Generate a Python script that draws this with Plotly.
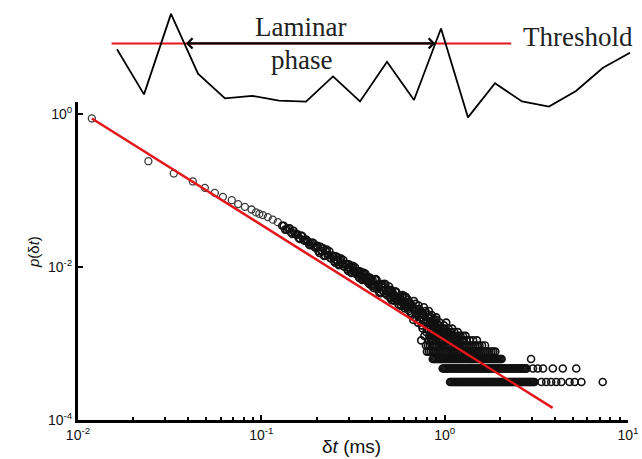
import plotly.graph_objects as go

# ---------------- main panel: laminar-phase length distribution ----------------
# isolated early points (delta t in ms, probability)
dt_iso = [0.0119, 0.0242, 0.0333, 0.0423, 0.0492, 0.0558, 0.0617, 0.0690,
          0.0747, 0.0813, 0.0884, 0.0935, 0.0975, 0.102, 0.1085, 0.1155, 0.123]
p_iso = [0.88, 0.243, 0.168, 0.132, 0.109, 0.0935, 0.083, 0.0752,
         0.0667, 0.0614, 0.0567, 0.0520, 0.0497, 0.0479, 0.0451, 0.0418, 0.0387]

# dense part of the curve
dt_curve = [
    0.130, 0.135, 0.140, 0.145, 0.150, 0.155, 0.160, 0.165, 0.170, 0.175,
    0.180, 0.185, 0.190, 0.195, 0.200,
    0.205, 0.210, 0.215, 0.220, 0.225, 0.230, 0.235, 0.240, 0.245, 0.250,
    0.255, 0.260, 0.265, 0.270, 0.275, 0.280, 0.285, 0.290, 0.295, 0.300,
    0.305, 0.310, 0.315, 0.320, 0.325, 0.330, 0.335, 0.340, 0.345, 0.350,
    0.355, 0.360, 0.365, 0.370, 0.375, 0.380, 0.385, 0.390, 0.395, 0.400,
    0.405, 0.410, 0.415, 0.420, 0.425, 0.430, 0.435, 0.440, 0.445, 0.450,
    0.455, 0.460, 0.465, 0.470, 0.475, 0.480, 0.485, 0.490, 0.495, 0.500,
    0.505, 0.510, 0.515, 0.520, 0.525, 0.530, 0.535, 0.540, 0.545, 0.550,
    0.555, 0.560, 0.565, 0.570, 0.575, 0.580, 0.585, 0.590, 0.595, 0.600,
    0.605, 0.610, 0.615, 0.620,
    0.63, 0.64, 0.65, 0.66, 0.67, 0.68, 0.69, 0.70, 0.71, 0.72, 0.73, 0.74,
    0.745, 0.75, 0.755, 0.76, 0.77, 0.775, 0.78, 0.79, 0.80, 0.81, 0.82,
    0.83, 0.84, 0.85, 0.86, 0.90,
    # second pass of bins
    0.1325, 0.1375, 0.1425, 0.1475, 0.1525, 0.1575, 0.1625, 0.1675, 0.1725, 0.1775,
    0.1825, 0.1875, 0.1925, 0.1975,
    0.2025, 0.2075, 0.2125, 0.2175, 0.2225, 0.2275, 0.2325, 0.2375, 0.2425, 0.2475,
    0.2525, 0.2575, 0.2625, 0.2675, 0.2725, 0.2775, 0.2825, 0.2875, 0.2925, 0.2975,
    0.3025, 0.3075, 0.3125, 0.3175, 0.3225, 0.3275, 0.3325, 0.3375, 0.3425, 0.3475,
    0.3525, 0.3575, 0.3625, 0.3675, 0.3725, 0.3775, 0.3825, 0.3875, 0.3925, 0.3975,
    0.4075, 0.4175, 0.4275, 0.4375, 0.4475, 0.4575, 0.4675, 0.4775, 0.4875, 0.4975,
    0.5075, 0.5175, 0.5275, 0.5375, 0.5475, 0.5575, 0.5675, 0.5775, 0.5875, 0.5975,
    0.6075, 0.6175,
    0.635, 0.645, 0.655, 0.665, 0.675, 0.685, 0.695, 0.705, 0.715, 0.725, 0.735,
    0.748, 0.758, 0.765, 0.785, 0.795, 0.805, 0.815, 0.825, 0.835, 0.845, 0.855,
    0.865, 0.875, 0.885, 0.892, 0.895]
p_curve = [
    0.0348, 0.0309, 0.0320, 0.0286, 0.0298, 0.0267, 0.0240, 0.0258, 0.0226, 0.0229,
    0.0213, 0.0193, 0.0209, 0.0184, 0.0188,
    0.0161, 0.0185, 0.0164, 0.0140, 0.0162, 0.0143, 0.0161, 0.0130, 0.0138, 0.0119,
    0.0139, 0.0123, 0.0106, 0.0123, 0.0110, 0.0124, 0.0101, 0.0108, 0.0093, 0.0109,
    0.0097, 0.0084, 0.0098, 0.0087, 0.0099, 0.0081, 0.0087, 0.0075, 0.0088, 0.0079,
    0.0068, 0.0080, 0.0072, 0.0082, 0.0067, 0.0072, 0.0062, 0.0073, 0.0066, 0.0057,
    0.00671, 0.00534, 0.00558, 0.00697, 0.00684, 0.00578, 0.00551, 0.00466, 0.00472, 0.00591,
    0.00599, 0.00491, 0.00483, 0.00606, 0.00597, 0.00448, 0.00428, 0.00489, 0.00468, 0.00409,
    0.00497, 0.00505, 0.00368, 0.00422, 0.00441, 0.00363, 0.00391, 0.00478, 0.00471, 0.00400,
    0.00360, 0.00325, 0.00408, 0.00415, 0.00322, 0.00347, 0.00411, 0.00431, 0.00355, 0.00321,
    0.00289, 0.00352, 0.00405, 0.00296,
    3.77e-3, 2.67e-3, 3.30e-3, 2.36e-3, 2.98e-3, 3.61e-3, 2.20e-3, 2.83e-3, 2.51e-3, 3.14e-3,
    2.04e-3, 2.67e-3, 1.10e-3, 1.73e-3, 2.51e-3, 2.36e-3, 2.98e-3, 1.26e-3, 1.88e-3, 2.51e-3,
    1.57e-3, 2.20e-3, 2.67e-3, 1.88e-3, 1.41e-3, 2.36e-3, 1.73e-3, 2.20e-3,
    # second pass of bins
    0.0348, 0.0310, 0.0322, 0.0271, 0.0274, 0.0269, 0.0234, 0.0253, 0.0221, 0.0225,
    0.0196, 0.0201, 0.0205, 0.0180,
    0.0190, 0.0153, 0.0162, 0.0176, 0.0142, 0.0170, 0.0145, 0.0132, 0.0141, 0.0141,
    0.0114, 0.0121, 0.0133, 0.0108, 0.0129, 0.0112, 0.0102, 0.0109, 0.0109, 0.0089,
    0.0095, 0.0105, 0.0085, 0.0103, 0.0089, 0.0082, 0.0088, 0.0088, 0.0072, 0.0077,
    0.0085, 0.0070, 0.0084, 0.0073, 0.0067, 0.0072, 0.0073, 0.0060, 0.0064, 0.0071,
    0.00607, 0.00682, 0.00517, 0.00598, 0.00455, 0.00543, 0.00593, 0.00452, 0.00479, 0.00557,
    0.00388, 0.00479, 0.00400, 0.00480, 0.00357, 0.00391, 0.00405, 0.00310, 0.00408, 0.00342,
    0.00412, 0.00307,
    2.98e-3, 3.45e-3, 2.51e-3, 3.14e-3, 2.04e-3, 2.67e-3, 3.30e-3, 2.36e-3, 1.88e-3, 2.83e-3,
    2.20e-3, 2.51e-3, 1.57e-3, 2.04e-3, 2.67e-3, 1.41e-3, 1.88e-3, 2.36e-3, 1.26e-3, 1.73e-3,
    2.20e-3, 1.10e-3, 1.57e-3, 2.04e-3, 9.42e-4, 1.88e-3, 1.41e-3]

# low-probability tail: discrete levels (2, 3, 4, ... events) and their delta t values
band_p = [3.14e-4, 4.71e-4, 6.28e-4, 7.85e-4, 9.42e-4, 1.10e-3,
          1.26e-3, 1.41e-3, 1.57e-3, 1.73e-3, 1.88e-3, 2.04e-3]
band_dt = [
    [1.07, 1.085, 1.10, 1.118, 1.135, 1.152, 1.17, 1.188, 1.205, 1.222, 1.24, 1.26,
     1.28, 1.298, 1.315, 1.335, 1.355, 1.375, 1.395, 1.418, 1.44, 1.46, 1.48, 1.502,
     1.525, 1.548, 1.57, 1.595, 1.62, 1.645, 1.67, 1.695, 1.72, 1.745, 1.77, 1.795,
     1.82, 1.848, 1.875, 1.902, 1.93, 1.96, 1.99, 2.02, 2.05, 2.08, 2.11, 2.142,
     2.175, 2.208, 2.24, 2.272, 2.305, 2.34, 2.375, 2.41, 2.445, 2.482, 2.52, 2.558,
     2.595, 2.632, 2.67, 2.71, 2.75, 2.792, 2.835, 2.878, 2.92, 2.96, 3.0, 3.045,
     3.09, 3.37, 3.58, 3.81, 4.06, 4.33, 4.80, 5.12, 5.57, 7.28],
    [0.975, 0.99, 1.005, 1.02, 1.035, 1.05, 1.065, 1.082, 1.10, 1.115, 1.13, 1.148,
     1.165, 1.182, 1.20, 1.218, 1.235, 1.252, 1.27, 1.29, 1.31, 1.33, 1.35, 1.37,
     1.39, 1.41, 1.43, 1.452, 1.475, 1.498, 1.52, 1.542, 1.565, 1.588, 1.61, 1.635,
     1.66, 1.685, 1.71, 1.735, 1.76, 1.788, 1.815, 1.842, 1.87, 1.898, 1.925, 1.952,
     1.98, 2.01, 2.04, 2.07, 2.10, 2.132, 2.165, 2.198, 2.23, 2.265, 2.30, 2.335,
     2.37, 2.405, 2.44, 2.475, 2.51, 2.55, 2.59, 2.63, 2.67, 2.71, 2.75, 2.775,
     2.80, 3.03, 3.22, 3.44, 3.89, 4.41, 5.22],
    [0.861, 0.874, 0.887, 0.90, 0.914, 0.927, 0.941, 0.955, 0.969, 0.983, 0.998,
     1.014, 1.03, 1.045, 1.06, 1.075, 1.09, 1.105, 1.12, 1.138, 1.155, 1.172, 1.19,
     1.208, 1.225, 1.242, 1.26, 1.28, 1.30, 1.32, 1.34, 1.36, 1.38, 1.40, 1.42, 1.44,
     1.46, 1.482, 1.505, 1.528, 1.55, 1.575, 1.60, 1.622, 1.645, 1.67, 1.695, 1.72,
     1.745, 1.772, 1.80, 1.825, 1.85, 1.878, 1.905, 1.935, 1.965, 1.992, 2.02,
     2.045, 2.96],
    [0.80, 0.82, 0.84, 0.86, 0.88, 0.90, 0.92, 0.94, 0.96, 0.985, 1.01, 1.035, 1.06,
     1.085, 1.11, 1.135, 1.16, 1.19, 1.22, 1.25, 1.28, 1.31, 1.34, 1.375, 1.41,
     1.445, 1.48, 1.515, 1.55, 1.59, 1.63, 1.67, 1.71, 1.755, 1.80, 1.845, 1.89],
    [0.79, 0.81, 0.83, 0.85, 0.87, 0.89, 0.91, 0.935, 0.96, 0.98, 1.0, 1.025, 1.05,
     1.075, 1.10, 1.13, 1.16, 1.185, 1.21, 1.24, 1.27, 1.30, 1.33, 1.365, 1.40,
     1.435, 1.47, 1.51, 1.55, 1.60, 1.66],
    [0.82, 0.84, 0.86, 0.88, 0.9, 0.925, 0.95, 0.975, 1.0, 1.025, 1.05, 1.075, 1.1,
     1.125, 1.15, 1.18, 1.21, 1.24, 1.27, 1.32, 1.37, 1.43, 1.50],
    [0.85, 0.87, 0.89, 0.91, 0.93, 0.955, 0.98, 1.005, 1.03, 1.055, 1.08, 1.11,
     1.14, 1.18, 1.22, 1.26, 1.30],
    [0.88, 0.90, 0.92, 0.945, 0.97, 0.995, 1.02, 1.05, 1.08, 1.13, 1.18],
    [0.87, 0.89, 0.91, 0.93, 0.95, 0.975, 1.0, 1.05, 1.1],
    [0.88, 0.93, 0.99],
    [0.87, 0.94, 1.02],
    [0.9],
]

# power-law fit (slope about -1.5)
fit_dt = [0.0119, 3.88]
fit_p = [0.88, 1.44e-4]

# axis ticks
x_tickvals = [0.01, 0.1, 1, 10]
x_ticktext = ["10<sup>-2</sup>", "10<sup>-1</sup>", "10<sup>0</sup>", "10<sup>1</sup>"]
x_minor = [m * 10.0 ** e for e in (-2, -1, 0) for m in range(2, 10)]
y_tickvals = [1e-4, 1e-2, 1]
y_ticktext = ["10<sup>-4</sup>", "10<sup>-2</sup>", "10<sup>0</sup>"]

# ---------------- inset: signal and threshold ----------------
sample_idx = list(range(20))
signal = [70.7, 25.6, 106.1, 46.4, 21.7, 24.2, 19.3, 18.3, 43.6, 18.6,
          58.2, 20.0, 91.5, 2.6, 36.7, 18.6, 13.4, 29.0, 52.3, 67.2]
threshold = 76.6
threshold_span = [-0.2, 14.6]

# threshold crossings (linear interpolation between samples)
crossings = []
for i in range(len(signal) - 1):
    a, b = signal[i] - threshold, signal[i + 1] - threshold
    if a * b < 0:
        crossings.append(sample_idx[i] + a / (a - b))
lam_start, lam_end = crossings[1], crossings[2]

# ---------------- build figure ----------------
tail_dt, tail_p = [], []
for lev, dts in zip(band_p, band_dt):
    tail_dt += dts
    tail_p += [lev] * len(dts)

fig = go.Figure()
fig.add_trace(go.Scatter(
    x=dt_iso, y=p_iso, mode="markers", xaxis="x", yaxis="y",
    marker=dict(symbol="circle-open", size=7, color="#3a3a3a", line=dict(width=1.3)),
    showlegend=False, hoverinfo="skip"))
fig.add_trace(go.Scatter(
    x=dt_curve + tail_dt, y=p_curve + tail_p, mode="markers", xaxis="x", yaxis="y",
    marker=dict(symbol="circle-open", size=7, color="#111111", line=dict(width=1.6)),
    showlegend=False, hoverinfo="skip"))
fig.add_trace(go.Scatter(
    x=fit_dt, y=fit_p, mode="lines", xaxis="x", yaxis="y",
    line=dict(color="#e3161c", width=2.5), showlegend=False, hoverinfo="skip"))

fig.add_trace(go.Scatter(
    x=threshold_span, y=[threshold, threshold], mode="lines", xaxis="x2", yaxis="y2",
    line=dict(color="#e3161c", width=2), showlegend=False, hoverinfo="skip"))
fig.add_trace(go.Scatter(
    x=sample_idx, y=signal, mode="lines", xaxis="x2", yaxis="y2",
    line=dict(color="black", width=1.8), showlegend=False, hoverinfo="skip"))

serif = "Liberation Serif, Times New Roman, serif"
sans = "Liberation Sans, Arial, sans-serif"

annotations = [
    dict(x=lam_end, y=threshold, ax=lam_start, ay=threshold,
         xref="x2", yref="y2", axref="x2", ayref="y2",
         showarrow=True, arrowside="end+start", arrowhead=4, startarrowhead=4,
         arrowsize=0.9, startarrowsize=0.9, arrowwidth=2.2, arrowcolor="black",
         standoff=0, startstandoff=0, text=""),
    dict(x=6.80, y=93.5, xref="x2", yref="y2", text="Laminar", showarrow=False,
         font=dict(family=serif, size=27, color="#222")),
    dict(x=6.83, y=60, xref="x2", yref="y2", text="phase", showarrow=False,
         font=dict(family=serif, size=27, color="#222")),
    dict(x=14.96, y=83.5, xref="x2", yref="y2", text="Threshold", showarrow=False,
         xanchor="left", font=dict(family=serif, size=27, color="#222")),
    dict(x=351.5 / 642, y=1 - 446 / 459, xref="paper", yref="paper",
         text="δ<i>t</i> (ms)", showarrow=False, yanchor="middle",
         font=dict(family=sans, size=19, color="#111")),
    dict(x=22.5 / 642, y=1 - 252 / 459, xref="paper", yref="paper",
         text="<i>p</i>(δ<i>t</i>)", showarrow=False, textangle=-90,
         font=dict(family=sans, size=15, color="#111")),
]

fig.update_layout(
    width=642, height=459, autosize=False,
    margin=dict(l=0, r=0, t=0, b=0),
    paper_bgcolor="white", plot_bgcolor="rgba(0,0,0,0)",
    annotations=annotations,
    xaxis=dict(type="log", range=[-2, 1], domain=[78 / 642, 628 / 642], anchor="y",
               showline=True, linewidth=3, linecolor="black", showgrid=False,
               zeroline=False, tickmode="array", tickvals=x_tickvals, ticktext=x_ticktext,
               ticks="inside", ticklen=5, tickwidth=2, tickcolor="black",
               tickfont=dict(family=sans, size=14, color="#111"), automargin=False,
               minor=dict(tickmode="array", tickvals=x_minor, ticks="inside",
                          ticklen=3, tickwidth=2, tickcolor="black", showgrid=False)),
    yaxis=dict(type="log", range=[-4, 0.16], domain=[1 - 420 / 459, 1 - 102 / 459],
               anchor="x", showline=True, linewidth=3, linecolor="black",
               showgrid=False, zeroline=False, tickmode="array",
               tickvals=y_tickvals, ticktext=y_ticktext,
               ticks="inside", ticklen=5, tickwidth=2, tickcolor="black",
               tickfont=dict(family=sans, size=14, color="#111"), automargin=False),
    xaxis2=dict(domain=[0, 1], range=[-117 / 27, (642 - 117) / 27], anchor="y2",
                visible=False, fixedrange=True),
    yaxis2=dict(domain=[1 - 120 / 459, 1], range=[0, 120], anchor="x2",
                visible=False, fixedrange=True),
)

fig.write_html("out.html", config={"displayModeBar": False},
               post_script="document.body.style.margin='0';")
